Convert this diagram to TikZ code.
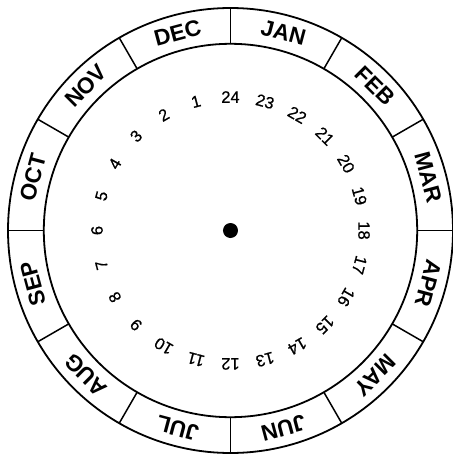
\documentclass[tikz,border=0pt]{standalone}
\usepackage{fontspec}
\setmainfont{Liberation Sans}
\newfontfamily\hourfont[FakeBold=0.6]{Liberation Sans}
\tikzset{
 ring/.style={
 draw=black,
 line width=1.8pt
 },
 divider/.style={
 draw=black,
 line width=1.5pt
 },
 monthlabel/.style={
 font=\bfseries\fontsize{22.5}{22.5}\selectfont,
 inner sep=0pt
 },
 hourlabel/.style={
 font=\hourfont\fontsize{16.5}{16.5}\selectfont,
 inner sep=0pt
 }
}

\begin{document}
\begin{tikzpicture}[x=1pt,y=1pt]
	\useasboundingbox (-230.5,-225.5) rectangle (222.5,230.5);
	\coordinate (hub) at (0,0);

	\draw[ring] (hub) circle (222.5);
	\draw[ring] (hub) circle (186.7);
	\foreach \a in {0,30,...,330}
		\draw[divider] (\a:186.7) -- (\a:222.5);

	\foreach \m [count=\i from 0] in {JAN,FEB,MAR,APR,MAY,JUN,JUL,AUG,SEP,OCT,NOV,DEC}
		\node[monthlabel, rotate={-15-30*\i}] (month\i) at ({75-30*\i}:204.6) {\m};

	\foreach \n in {1,...,24}
		\node[hourlabel, rotate={15*\n}] (hour\n) at ({90+15*\n}:133.5) {\n};

	\fill (hub) circle (7.5);
\end{tikzpicture}
\end{document}
